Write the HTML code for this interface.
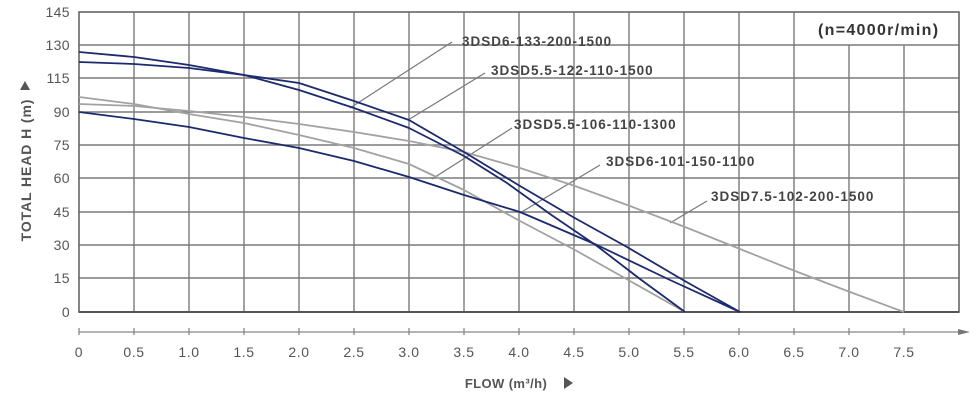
<!DOCTYPE html>
<html><head><meta charset="utf-8"><style>
html,body{margin:0;padding:0;background:#fff;}
svg{display:block;font-family:"Liberation Sans",Arial,sans-serif;}
</style></head><body>
<svg width="980" height="408" viewBox="0 0 980 408" xmlns="http://www.w3.org/2000/svg">
<rect width="980" height="408" fill="#fff"/>
<g stroke="#7a7a7a" stroke-width="1.4" fill="none">
<line x1="79" y1="45" x2="959" y2="45"/>
<line x1="79" y1="78" x2="959" y2="78"/>
<line x1="79" y1="112" x2="959" y2="112"/>
<line x1="79" y1="145" x2="959" y2="145"/>
<line x1="79" y1="178" x2="959" y2="178"/>
<line x1="79" y1="212" x2="959" y2="212"/>
<line x1="79" y1="245" x2="959" y2="245"/>
<line x1="79" y1="278" x2="959" y2="278"/>
<line x1="134" y1="12" x2="134" y2="312"/>
<line x1="189" y1="12" x2="189" y2="312"/>
<line x1="244" y1="12" x2="244" y2="312"/>
<line x1="299" y1="12" x2="299" y2="312"/>
<line x1="354" y1="12" x2="354" y2="312"/>
<line x1="409" y1="12" x2="409" y2="312"/>
<line x1="464" y1="12" x2="464" y2="312"/>
<line x1="519" y1="12" x2="519" y2="312"/>
<line x1="574" y1="12" x2="574" y2="312"/>
<line x1="629" y1="12" x2="629" y2="312"/>
<line x1="684" y1="12" x2="684" y2="312"/>
<line x1="739" y1="12" x2="739" y2="312"/>
<line x1="794" y1="12" x2="794" y2="312"/>
<line x1="849" y1="45" x2="849" y2="312"/>
<line x1="904" y1="45" x2="904" y2="312"/>
</g>
<rect x="79" y="12" width="880" height="300" fill="none" stroke="#666" stroke-width="1.6"/>
<line x1="79" y1="312" x2="959" y2="312" stroke="#555" stroke-width="2"/>

<g stroke="#888" stroke-width="1.3">
<line x1="79" y1="332" x2="962" y2="332"/>
<line x1="79" y1="328" x2="79" y2="335"/><line x1="134" y1="328" x2="134" y2="335"/><line x1="189" y1="328" x2="189" y2="335"/><line x1="244" y1="328" x2="244" y2="335"/><line x1="299" y1="328" x2="299" y2="335"/><line x1="354" y1="328" x2="354" y2="335"/><line x1="409" y1="328" x2="409" y2="335"/><line x1="464" y1="328" x2="464" y2="335"/><line x1="519" y1="328" x2="519" y2="335"/><line x1="574" y1="328" x2="574" y2="335"/><line x1="629" y1="328" x2="629" y2="335"/><line x1="684" y1="328" x2="684" y2="335"/><line x1="739" y1="328" x2="739" y2="335"/><line x1="794" y1="328" x2="794" y2="335"/><line x1="849" y1="328" x2="849" y2="335"/><line x1="904" y1="328" x2="904" y2="335"/>
</g>
<polygon points="970,332 958,329 958,335" fill="#777"/>

<g fill="#555" font-size="14" text-anchor="middle" letter-spacing="0.6">
<text x="79" y="357">0</text><text x="134" y="357">0.5</text><text x="189" y="357">1.0</text><text x="244" y="357">1.5</text><text x="299" y="357">2.0</text><text x="354" y="357">2.5</text><text x="409" y="357">3.0</text><text x="464" y="357">3.5</text><text x="519" y="357">4.0</text><text x="574" y="357">4.5</text><text x="629" y="357">5.0</text><text x="684" y="357">5.5</text><text x="739" y="357">6.0</text><text x="794" y="357">6.5</text><text x="849" y="357">7.0</text><text x="904" y="357">7.5</text>
</g>
<g fill="#555" font-size="14" text-anchor="end" letter-spacing="0.4">
<text x="70" y="17">145</text><text x="70" y="50">130</text><text x="70" y="83">115</text><text x="70" y="117">90</text><text x="70" y="150">75</text><text x="70" y="183">60</text><text x="70" y="217">45</text><text x="70" y="250">30</text><text x="70" y="283">15</text><text x="70" y="317">0</text>
</g>
<text x="0" y="0" transform="translate(31,170) rotate(-90)" text-anchor="middle" font-size="14" font-weight="bold" fill="#555" letter-spacing="0.9">TOTAL HEAD H (m)</text>
<polygon points="25,81 20,90 30,90" fill="#555"/>
<text x="506" y="388" text-anchor="middle" font-size="13" font-weight="bold" fill="#555" letter-spacing="0.4">FLOW (m³/h)</text>
<polygon points="564,377 564,389 573,383" fill="#555"/>

<g stroke="#777" stroke-width="1.2">
<line x1="452" y1="42" x2="350" y2="108"/>
<line x1="485" y1="73" x2="408" y2="120"/>
<line x1="512" y1="128" x2="432" y2="179"/>
<line x1="600" y1="165" x2="520" y2="213"/>
<line x1="707" y1="201" x2="670" y2="223"/>
</g>
<g fill="#444" font-size="13.5" font-weight="bold" letter-spacing="1">
<text x="462" y="46">3DSD6-133-200-1500</text>
<text x="491" y="75">3DSD5.5-122-110-1500</text>
<text x="514" y="129">3DSD5.5-106-110-1300</text>
<text x="606" y="166">3DSD6-101-150-1100</text>
<text x="711" y="201">3DSD7.5-102-200-1500</text>
<text x="818" y="35" font-size="16" fill="#333" letter-spacing="1.3">(n=4000r/min)</text>
</g>

<g fill="none" stroke-width="1.8" stroke-linejoin="round">
<polyline stroke="#a2a2a2" points="79,104 134,106 189,111 244,117 299,124 354,132 409,141 464,152 520,168 575,186 630,206 685,227 740,249 795,271 850,292 904,312"/>
<polyline stroke="#a2a2a2" points="79,97 134,104 189,114 244,123 299,135 354,148 409,164 464,190 520,221 575,250 630,281 685,312"/>
<polyline stroke="#1c2a6e" points="79,112 134,119 189,127 244,138 299,148 354,161 409,177 464,195 520,212 597,245 670,280 740,312"/>
<polyline stroke="#1c2a6e" points="79,62 134,64 189,68 244,75 299,83 354,101 409,120 464,152 520,186 573,217 627,247 683,280 740,312"/>
<polyline stroke="#1c2a6e" points="79,52 134,57 189,65 244,75 299,90 354,108 409,128 464,156 507,183 550,214 597,246 640,279 685,312"/>
</g>
</svg>
</body></html>
